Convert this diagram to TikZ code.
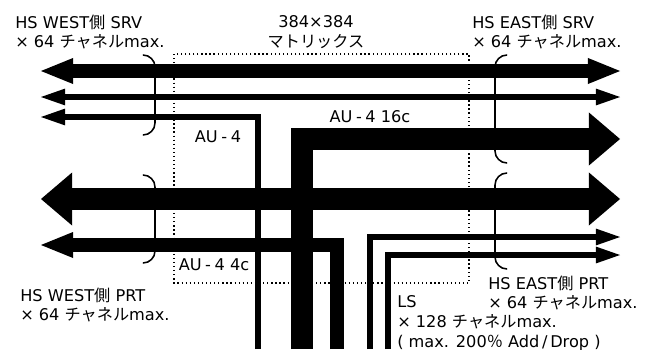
\documentclass[tikz,border=0pt]{standalone}
\usepackage{fontspec}
\setmainfont{DejaVu Sans}
\newfontfamily\cjk{Noto Sans CJK JP}
\usetikzlibrary{arrows.meta}
\newcommand{\dsh}{\hspace{0.22em}-\hspace{0.22em}}
\tikzset{
  wideTip/.tip={Triangle[length=0.78cm,width=1.33cm,line width=0pt]},
  midTip/.tip={Triangle[length=0.8cm,width=0.65cm,line width=0pt]},
  thinTip/.tip={Triangle[length=0.6cm,width=0.42cm,line width=0pt]},
  pathW/.style={line width=0.55cm},
  pathM/.style={line width=0.35cm},
  pathT/.style={line width=0.14cm},
  lbl/.style={font=\fontsize{11.5}{14}\selectfont,inner sep=0pt,align=left},
  brace/.style={line width=1.1pt,rounded corners=0.3cm},
  mtxbox/.style={dotted,line width=0.9pt},
}

\begin{document}
\begin{tikzpicture}[x=0.025cm,y=-0.025cm]
  \useasboundingbox (0,0) rectangle (645,349);
  \node[lbl,anchor=west] (srvW) at (15,32) {HS WEST{\cjk 側} SRV\\× 64 {\cjk チャネル}max.};
  \node[lbl,align=center] (mtx) at (316,32) {384×384\\{\cjk マトリックス}};
  \node[lbl,anchor=west] (srvE) at (472,32) {HS EAST{\cjk 側} SRV\\× 64 {\cjk チャネル}max.};
  \node[lbl] (au4) at (218,137) {AU\dsh 4};
  \node[lbl] (au16) at (370,117) {AU\dsh 4 16c};
  \node[lbl] (au4c) at (214,265) {AU\dsh 4 4c};
  \node[lbl,anchor=west] (prtW) at (20,305) {HS WEST{\cjk 側} PRT\\× 64 {\cjk チャネル}max.};
  \node[lbl,anchor=west] (prtE) at (488,293) {HS EAST{\cjk 側} PRT\\× 64 {\cjk チャネル}max.};
  \node[lbl,anchor=west] (ls) at (397,323) {LS\\× 128 {\cjk チャネル}max.\\( max. 200{\cjk ％} Add\,/\,Drop )};
  \draw[mtxbox] (174,54) rectangle (469,283);
  \draw[brace] (143,55) -| (155,95) |- (143,135);
  \draw[brace] (143,175) -| (155,219) |- (143,263);
  \draw[brace] (507,55) -| (495,109) |- (507,163);
  \draw[brace] (507,173) -| (495,221) |- (507,269);
  \coordinate (srvW1) at (41,71);  \coordinate (srvE1) at (620,71);
  \coordinate (srvW2) at (41,97);  \coordinate (srvE2) at (620,97);
  \coordinate (au4W) at (41,117);  \coordinate (au4S) at (258,349);
  \coordinate (au16E) at (620,139); \coordinate (au16S) at (302,349);
  \coordinate (prtW1) at (41,199); \coordinate (prtE1) at (620,199);
  \coordinate (au4cW) at (41,245); \coordinate (au4cS) at (337,349);
  \coordinate (lsE1) at (620,237); \coordinate (lsS1) at (370,349);
  \coordinate (lsE2) at (620,255); \coordinate (lsS2) at (388,349);
  \draw[pathM,{midTip}-{midTip}] (srvW1) -- (srvE1);
  \draw[pathT,{thinTip}-{thinTip}] (srvW2) -- (srvE2);
  \draw[pathT,-{thinTip}] (au4S) |- (au4W);
  \draw[pathW,-{wideTip}] (au16S) |- (au16E);
  \draw[pathW,{wideTip}-{wideTip}] (prtW1) -- (prtE1);
  \draw[pathM,-{midTip}] (au4cS) |- (au4cW);
  \draw[pathT,-{thinTip}] (lsS1) |- (lsE1);
  \draw[pathT,-{thinTip}] (lsS2) |- (lsE2);
\end{tikzpicture}
\end{document}
